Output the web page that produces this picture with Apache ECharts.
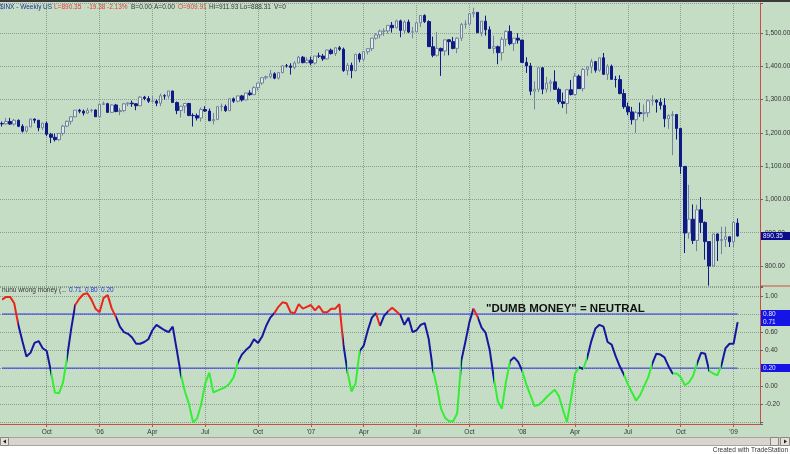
<!DOCTYPE html>
<html><head><meta charset="utf-8">
<script src="https://cdn.jsdelivr.net/npm/echarts@6/dist/echarts.min.js"></script>
<style>html,body{margin:0;padding:0;background:#fff}#c{width:790px;height:454px}</style>
</head><body><div id="c"></div>
<script>
const weeks = [
'2005-07-22','2005-07-29','2005-08-05','2005-08-12','2005-08-19','2005-08-26','2005-09-02','2005-09-09','2005-09-16','2005-09-23','2005-09-30','2005-10-07','2005-10-14','2005-10-21','2005-10-28','2005-11-04','2005-11-11','2005-11-18','2005-11-25','2005-12-02','2005-12-09','2005-12-16','2005-12-23','2005-12-30',
'2006-01-06','2006-01-13','2006-01-20','2006-01-27','2006-02-03','2006-02-10','2006-02-17','2006-02-24','2006-03-03','2006-03-10','2006-03-17','2006-03-24','2006-03-31','2006-04-07','2006-04-14','2006-04-21','2006-04-28','2006-05-05','2006-05-12','2006-05-19','2006-05-26','2006-06-02','2006-06-09','2006-06-16','2006-06-23','2006-06-30','2006-07-07','2006-07-14','2006-07-21','2006-07-28','2006-08-04','2006-08-11','2006-08-18','2006-08-25','2006-09-01','2006-09-08','2006-09-15','2006-09-22','2006-09-29','2006-10-06','2006-10-13','2006-10-20','2006-10-27','2006-11-03','2006-11-10','2006-11-17','2006-11-24','2006-12-01','2006-12-08','2006-12-15','2006-12-22','2006-12-29',
'2007-01-05','2007-01-12','2007-01-19','2007-01-26','2007-02-02','2007-02-09','2007-02-16','2007-02-23','2007-03-02','2007-03-09','2007-03-16','2007-03-23','2007-03-30','2007-04-06','2007-04-13','2007-04-20','2007-04-27','2007-05-04','2007-05-11','2007-05-18','2007-05-25','2007-06-01','2007-06-08','2007-06-15','2007-06-22','2007-06-29','2007-07-06','2007-07-13','2007-07-20','2007-07-27','2007-08-03','2007-08-10','2007-08-17','2007-08-24','2007-08-31','2007-09-07','2007-09-14','2007-09-21','2007-09-28','2007-10-05','2007-10-12','2007-10-19','2007-10-26','2007-11-02','2007-11-09','2007-11-16','2007-11-23','2007-11-30','2007-12-07','2007-12-14','2007-12-21','2007-12-28',
'2008-01-04','2008-01-11','2008-01-18','2008-01-25','2008-02-01','2008-02-08','2008-02-15','2008-02-22','2008-02-29','2008-03-07','2008-03-14','2008-03-21','2008-03-28','2008-04-04','2008-04-11','2008-04-18','2008-04-25','2008-05-02','2008-05-09','2008-05-16','2008-05-23','2008-05-30','2008-06-06','2008-06-13','2008-06-20','2008-06-27','2008-07-04','2008-07-11','2008-07-18','2008-07-25','2008-08-01','2008-08-08','2008-08-15','2008-08-22','2008-08-29','2008-09-05','2008-09-12','2008-09-19','2008-09-26','2008-10-03','2008-10-10','2008-10-17','2008-10-24','2008-10-31','2008-11-07','2008-11-14','2008-11-21','2008-11-28','2008-12-05','2008-12-12','2008-12-19','2008-12-26',
'2009-01-02','2009-01-09'];
const futureWeeks = ['2009-01-16','2009-01-23','2009-01-30','2009-02-06','2009-02-13'];

const open = [
1227.9,1227.0,1234.2,1226.4,1237.8,1219.7,1205.1,1218.0,1241.5,1237.9,
1215.3,1228.8,1195.9,1186.6,1179.6,1198.4,1220.1,1234.7,1248.3,1268.2,
1265.1,1259.4,1267.3,1268.7,1248.3,1285.5,1287.6,1261.5,1283.7,1264.0,
1266.9,1287.2,1289.4,1287.2,1281.4,1307.3,1302.9,1294.9,1295.5,1289.1,
1311.3,1310.6,1325.8,1291.2,1267.0,1280.2,1288.2,1252.3,1251.5,1244.5,
1270.2,1265.5,1236.2,1240.3,1278.6,1279.4,1266.7,1302.3,1295.1,1311.0,
1298.9,1319.7,1314.8,1335.9,1349.6,1365.6,1368.6,1377.3,1364.3,1380.9,
1401.2,1400.9,1396.7,1409.8,1427.1,1410.8,1418.3,1409.7,1430.7,1430.5,
1422.2,1448.4,1438.1,1455.5,1451.2,1387.2,1402.8,1386.9,1436.1,1420.9,
1443.8,1452.9,1484.4,1494.3,1505.6,1505.9,1522.8,1515.7,1536.3,1507.7,
1532.9,1502.6,1503.4,1530.4,1552.5,1534.1,1458.9,1433.1,1453.6,1445.9,
1479.4,1473.9,1453.6,1484.3,1525.8,1526.8,1557.6,1561.8,1500.6,1535.3,
1509.7,1453.7,1458.7,1440.7,1481.1,1504.7,1467.9,1484.5,1478.5,1411.6,
1401.0,1325.2,1330.6,1395.4,1331.3,1349.0,1353.1,1330.6,1293.4,1288.1,
1329.5,1315.2,1370.4,1332.8,1390.3,1397.8,1413.9,1388.3,1425.4,1375.9,
1400.4,1360.7,1360.0,1317.9,1278.4,1262.9,1239.5,1260.7,1257.8,1260.3,
1296.3,1298.2,1292.2,1282.8,1242.3,1251.7,1255.1,1213.3,1099.2,899.2,
940.6,876.8,968.8,931.0,873.3,800.0,896.2,876.1,879.7,887.9,
872.8,929.0];
const high = [
1234,1245,1245,1242,1240,1226,1220,1243,1243,1238,
1231,1234,1200,1198,1199,1224,1237,1249,1268,1272,
1270,1275,1272,1270,1287,1294,1290,1286,1287,1275,
1290,1292,1297,1289,1310,1311,1310,1310,1300,1318,
1316,1326,1326,1294,1281,1290,1290,1259,1258,1276,
1280,1273,1260,1280,1288,1285,1303,1306,1311,1314,
1320,1328,1340,1350,1366,1372,1389,1382,1382,1403,
1407,1409,1415,1431,1431,1427,1429,1431,1441,1437,
1450,1453,1457,1461,1456,1410,1411,1437,1440,1445,
1453,1485,1499,1510,1514,1523,1533,1540,1540,1538,
1540,1518,1532,1553,1556,1538,1489,1503,1456,1480,
1481,1488,1487,1530,1538,1560,1576,1563,1536,1552,
1520,1492,1462,1488,1508,1523,1485,1499,1479,1427,
1410,1355,1396,1397,1368,1360,1388,1336,1321,1332,
1359,1380,1375,1395,1398,1422,1416,1426,1440,1406,
1405,1371,1373,1331,1291,1278,1266,1291,1285,1300,
1313,1300,1304,1304,1256,1265,1255,1214,1100,1044,
985,984,1007,934,874,897,898,918,918,888,
934,943];
const low = [
1219,1225,1224,1222,1217,1201,1201,1217,1229,1205,
1209,1190,1169,1174,1176,1192,1217,1225,1247,1259,
1252,1257,1261,1248,1245,1283,1260,1260,1262,1253,
1262,1280,1278,1268,1280,1298,1290,1291,1280,1280,
1300,1303,1290,1256,1246,1259,1250,1219,1237,1234,
1263,1236,1225,1238,1265,1263,1266,1290,1292,1294,
1298,1311,1314,1327,1344,1360,1363,1361,1360,1379,
1396,1375,1391,1409,1409,1408,1403,1405,1425,1416,
1420,1435,1431,1446,1383,1373,1364,1385,1412,1416,
1435,1446,1480,1484,1491,1498,1501,1514,1487,1499,
1500,1484,1502,1518,1530,1458,1427,1429,1371,1432,
1433,1451,1439,1476,1513,1525,1547,1500,1490,1492,
1453,1438,1406,1417,1460,1463,1446,1468,1411,1380,
1313,1270,1322,1316,1321,1324,1330,1286,1275,1257,
1312,1312,1332,1324,1371,1379,1381,1384,1374,1359,
1360,1336,1316,1272,1253,1225,1200,1248,1234,1247,
1282,1261,1270,1217,1212,1133,1180,1077,839,882,
866,845,899,819,741,799,815,836,857,857,
857,888];
const close = [
1227.0,1234.2,1226.4,1237.8,1219.7,1205.1,1218.0,1241.5,1237.9,1215.3,
1228.8,1195.9,1186.6,1179.6,1198.4,1220.1,1234.7,1248.3,1268.2,1265.1,
1259.4,1267.3,1268.7,1248.3,1285.5,1287.6,1261.5,1283.7,1264.0,1266.9,
1287.2,1289.4,1287.2,1281.4,1307.3,1302.9,1294.9,1295.5,1289.1,1311.3,
1310.6,1325.8,1291.2,1267.0,1280.2,1288.2,1252.3,1251.5,1244.5,1270.2,
1265.5,1236.2,1240.3,1278.6,1279.4,1266.7,1302.3,1295.1,1311.0,1298.9,
1319.7,1314.8,1335.9,1349.6,1365.6,1368.6,1377.3,1364.3,1380.9,1401.2,
1400.9,1396.7,1409.8,1427.1,1410.8,1418.3,1409.7,1430.7,1430.5,1422.2,
1448.4,1438.1,1455.5,1451.2,1387.2,1402.8,1386.9,1436.1,1420.9,1443.8,
1452.9,1484.4,1494.3,1505.6,1505.9,1522.8,1515.7,1536.3,1507.7,1532.9,
1502.6,1503.4,1530.4,1552.5,1534.1,1458.9,1433.1,1453.6,1445.9,1479.4,
1473.9,1453.6,1484.3,1525.8,1526.8,1557.6,1561.8,1500.6,1535.3,1509.7,
1453.7,1458.7,1440.7,1481.1,1504.7,1467.9,1484.5,1478.5,1411.6,1401.0,
1325.2,1330.6,1395.4,1331.3,1349.0,1353.1,1330.6,1293.4,1288.1,1329.5,
1315.2,1370.4,1332.8,1390.3,1397.8,1413.9,1388.3,1425.4,1375.9,1400.4,
1360.7,1360.0,1317.9,1278.4,1262.9,1239.5,1260.7,1257.8,1260.3,1296.3,
1298.2,1292.2,1282.8,1242.3,1251.7,1255.1,1213.3,1099.2,899.2,940.6,
876.8,968.8,931.0,873.3,800.0,896.2,876.1,879.7,887.9,872.8,
931.8,890.35];

const nunu = [
0.96,0.99,0.99,0.92,0.68,0.50,0.33,0.37,0.48,0.50,
0.42,0.39,0.17,-0.07,-0.08,0.04,0.32,0.63,0.90,0.97,
1.02,1.03,0.96,0.86,0.82,0.98,1.01,0.86,0.77,0.66,
0.60,0.58,0.54,0.47,0.47,0.49,0.52,0.62,0.68,0.65,
0.62,0.60,0.66,0.40,0.13,-0.06,-0.20,-0.40,-0.36,-0.20,
0.03,0.15,-0.07,-0.05,-0.03,-0.01,0.03,0.10,0.26,0.35,
0.40,0.44,0.52,0.48,0.55,0.67,0.76,0.81,0.88,0.93,
0.92,0.82,0.81,0.91,0.86,0.88,0.90,0.84,0.89,0.82,
0.82,0.86,0.86,0.91,0.46,0.16,-0.06,0.03,0.39,0.45,
0.62,0.76,0.81,0.67,0.78,0.83,0.87,0.83,0.79,0.68,
0.76,0.60,0.62,0.68,0.70,0.52,0.19,-0.01,-0.25,-0.35,
-0.39,-0.39,-0.30,0.28,0.49,0.71,0.86,0.77,0.65,0.59,
0.40,0.09,-0.17,-0.25,0.05,0.28,0.32,0.27,0.17,0.02,
-0.10,-0.22,-0.21,-0.17,-0.12,-0.08,-0.04,-0.11,-0.26,-0.40,
-0.14,0.14,0.21,0.19,0.32,0.50,0.64,0.68,0.66,0.49,
0.46,0.33,0.22,0.13,0.02,-0.07,-0.16,-0.10,0.00,0.10,
0.25,0.36,0.35,0.32,0.22,0.14,0.14,0.10,0.01,0.04,
0.11,0.25,0.37,0.36,0.17,0.14,0.12,0.23,0.42,0.47,
0.47,0.71];

const levels = [0.8, 0.2];
const priceTicks = [800, 900, 1000, 1100, 1200, 1300, 1400, 1500];
const nunuTicks = [-0.2, 0, 0.2, 0.4, 0.6, 0.8, 1.0];
const quarterMonths = {1: null, 4: 'Apr', 7: 'Jul', 10: 'Oct'};

const FONT = 'Liberation Sans, Arial, sans-serif';
const RED = '#e8261c', BLUE = '#14189e', GREEN = '#34ee34';
const AXISRED = '#d24a3c';
const cats = weeks.concat(futureWeeks);

function quarterLabel(idx) {
  if (idx <= 0 || idx >= cats.length) return null;
  const d = cats[idx];
  const m = +d.slice(5, 7);
  if (!(m in quarterMonths)) return null;
  if (cats[idx - 1].slice(5, 7) === d.slice(5, 7)) return null;
  return m === 1 ? "'" + d.slice(2, 4) : quarterMonths[m];
}
const isQ = (i) => quarterLabel(i) !== null;

const candleData = weeks.map((w, i) => [open[i], close[i], low[i], high[i]]);
const lastClose = close[close.length - 1];
const lastNunu = nunu[nunu.length - 1];

function segColor(v) { return v > 0.8 ? RED : (v < 0.2 ? GREEN : BLUE); }
const pieces = [];
(function () {
  let start = 0, cur = segColor(nunu[0]);
  for (let i = 1; i < nunu.length - 1; i++) {
    const c = segColor(nunu[i]);
    if (c !== cur) { pieces.push({gte: start, lt: i, color: cur}); start = i; cur = c; }
  }
  pieces.push({gte: start, lte: cats.length, color: cur});
})();

const dotted = {show: true, lineStyle: {color: '#8e9e8e', type: 'dotted', width: 1}};
const fmtPrice = (v) => priceTicks.some(t => Math.abs(t - v) < 1e-6)
  ? v.toLocaleString('en-US', {minimumFractionDigits: 2, maximumFractionDigits: 2}) : '';
const fmtNunu = (v) => nunuTicks.some(t => Math.abs(t - v) < 1e-6) ? v.toFixed(2) : '';

function txt(x, y, s, fill, size, weight) {
  return {type: 'text', x: x, y: y, z: 100, silent: true,
    style: {text: s, fill: fill, fontSize: size, fontFamily: FONT, fontWeight: weight || 'normal',
            align: 'left', verticalAlign: 'middle'}};
}

const headerParts = [
  ['$INX - Weekly', 0, '#1f2f8f'], ['US', 43, '#1f2f8f'], ['L=890.35', 54, '#e23a3a'],
  ['-19.38', 87, '#e23a3a'], ['-2.13%', 107, '#e23a3a'], ['B=0.00', 131, '#333'],
  ['A=0.00', 154, '#333'], ['O=909.91', 178, '#e23a3a'], ['Hi=911.93', 209, '#333'],
  ['Lo=888.31', 240, '#333'], ['V=0', 274, '#333']
];
const lowerHeader = [
  ['nunu wrong money (...', 2, '#333'], ['0.71', 69, '#2233dd'], ['0.80', 85, '#2233dd'], ['0.20', 101, '#2233dd']
];

const graphic = [
  {type: 'rect', z: 90, silent: true, shape: {x: 0, y: 0, width: 790, height: 2}, style: {fill: '#3a3a3a'}},
  {type: 'line', z: 90, silent: true, shape: {x1: 760, y1: 286, x2: 790, y2: 286}, style: {stroke: AXISRED, lineWidth: 1}},
  {type: 'rect', z: 90, silent: true, shape: {x: 0, y: 446, width: 790, height: 8}, style: {fill: '#ffffff'}},
  {type: 'rect', z: 91, silent: true, shape: {x: 0.5, y: 437.5, width: 789, height: 8}, style: {fill: '#d8d5cf', stroke: '#a9a59e'}},
  {type: 'rect', z: 92, silent: true, shape: {x: 0.5, y: 437.5, width: 8, height: 8}, style: {fill: '#e4e1dc', stroke: '#8c8880'}},
  {type: 'polygon', z: 93, silent: true, shape: {points: [[3, 441.5], [6, 439.5], [6, 443.5]]}, style: {fill: '#222'}},
  {type: 'rect', z: 92, silent: true, shape: {x: 770.5, y: 437.5, width: 8, height: 8}, style: {fill: '#e4e1dc', stroke: '#8c8880'}},
  {type: 'rect', z: 92, silent: true, shape: {x: 780.5, y: 437.5, width: 9, height: 8}, style: {fill: '#e4e1dc', stroke: '#8c8880'}},
  {type: 'polygon', z: 93, silent: true, shape: {points: [[787, 441.5], [784, 439.5], [784, 443.5]]}, style: {fill: '#222'}},
  {type: 'text', z: 100, silent: true, x: 788, y: 450, style: {text: 'Created with TradeStation', fill: '#333', fontSize: 6.5, fontFamily: FONT, align: 'right', verticalAlign: 'middle'}},
  txt(486, 309, '"DUMB MONEY" = NEUTRAL', '#111', 11.5, 'bold')
].concat(headerParts.map(p => txt(p[1], 7, p[0], p[2], 6.5)))
 .concat(lowerHeader.map(p => txt(p[1], 290, p[0], p[2], 6.5)));

const option = {
  backgroundColor: '#c5ddc5',
  animation: false,
  grid: [
    {left: 0, right: 30, top: 3, height: 283, outerBoundsMode: 'none', containLabel: false},
    {left: 0, right: 30, top: 287, height: 137, outerBoundsMode: 'none', containLabel: false}
  ],
  xAxis: [
    {type: 'category', gridIndex: 0, data: cats, boundaryGap: true,
     axisLine: {show: false, onZero: false}, axisTick: {show: false}, axisLabel: {show: false},
     splitLine: Object.assign({interval: isQ, alignWithLabel: true}, dotted)},
    {type: 'category', gridIndex: 1, data: cats, boundaryGap: true,
     axisLine: {show: true, onZero: false, lineStyle: {color: AXISRED, width: 1}},
     axisTick: {show: true, interval: isQ, alignWithLabel: true, length: 3, lineStyle: {color: AXISRED}},
     axisLabel: {interval: isQ, formatter: (v, i) => quarterLabel(i) || '', fontSize: 6.5, color: '#333', margin: 5, fontFamily: FONT},
     splitLine: Object.assign({interval: isQ, alignWithLabel: true}, dotted)}
  ],
  yAxis: [
    {type: 'value', gridIndex: 0, position: 'right', min: 740, max: 1590, splitNumber: 8, minInterval: 100, maxInterval: 100,
     axisLine: {show: true, lineStyle: {color: AXISRED, width: 1}},
     axisTick: {show: true, length: 3, lineStyle: {color: '#666'}},
     axisLabel: {formatter: fmtPrice, fontSize: 6.5, color: '#333', margin: 5, fontFamily: FONT},
     splitLine: dotted},
    {type: 'value', gridIndex: 1, position: 'right', min: -0.42, max: 1.10, splitNumber: 8, minInterval: 0.2, maxInterval: 0.2,
     axisLine: {show: true, lineStyle: {color: AXISRED, width: 1}},
     axisTick: {show: true, length: 3, lineStyle: {color: '#666'}},
     axisLabel: {formatter: fmtNunu, fontSize: 6.5, color: '#333', margin: 5, fontFamily: FONT},
     splitLine: dotted}
  ],
  visualMap: {type: 'piecewise', show: false, dimension: 0, seriesIndex: 3, pieces: pieces},
  series: [
    {type: 'candlestick', name: '$INX', xAxisIndex: 0, yAxisIndex: 0, data: candleData, barWidth: 3, silent: true,
     itemStyle: {color: '#e2ece4', color0: '#0f1b85', borderColor: '#74819f', borderColor0: '#0f1b85', borderWidth: 1}},
    {type: 'line', name: 'upper', xAxisIndex: 1, yAxisIndex: 1, data: weeks.map(() => levels[0]), symbol: 'none', silent: true, z: 2,
     lineStyle: {color: '#2b2be6', width: 1}},
    {type: 'line', name: 'lower', xAxisIndex: 1, yAxisIndex: 1, data: weeks.map(() => levels[1]), symbol: 'none', silent: true, z: 2,
     lineStyle: {color: '#2b2be6', width: 1}},
    {type: 'line', name: 'nunu wrong money', xAxisIndex: 1, yAxisIndex: 1, data: nunu, symbol: 'none', showSymbol: false, silent: true, z: 5,
     lineStyle: {width: 2}}
  ],
  graphic: graphic
};

const chart = echarts.init(document.getElementById('c'), null, {renderer: 'canvas'});
chart.setOption(option);

// value boxes on the right axis, positioned through the axis scales
function valueBox(yAxisIndex, v, bg) {
  const y = chart.convertToPixel({yAxisIndex: yAxisIndex}, v);
  return [
    {type: 'rect', z: 110, silent: true, shape: {x: 761, y: Math.round(y) - 4, width: 29, height: 8}, style: {fill: bg}},
    {type: 'text', z: 111, silent: true, x: 763, y: Math.round(y), style: {text: v.toFixed(2), fill: '#e6e8ff', fontSize: 6.5, fontFamily: FONT, align: 'left', verticalAlign: 'middle'}}
  ];
}
const boxes = [].concat(
  valueBox(0, lastClose, '#0c0c8a'),
  valueBox(1, levels[0], '#1414e6'),
  valueBox(1, lastNunu, '#1414e6'),
  valueBox(1, levels[1], '#1414e6')
);
chart.setOption({graphic: graphic.concat(boxes)});
</script>
</body></html>
